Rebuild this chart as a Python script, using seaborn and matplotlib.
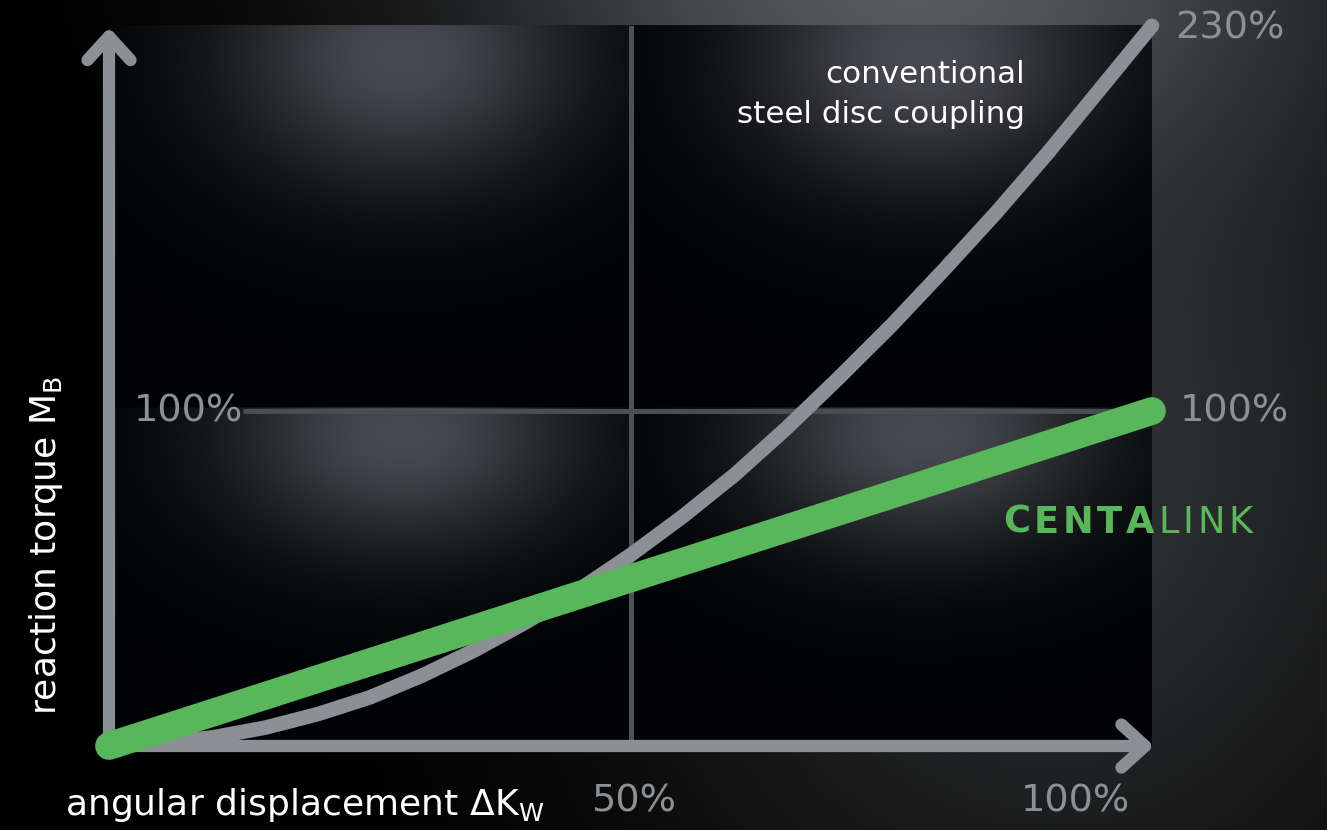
import matplotlib
matplotlib.use('Agg')
import matplotlib.pyplot as plt
import numpy as np
import seaborn as sns

# angular displacement in % of the rated value
disp = [0, 5, 10, 15, 20, 25, 30, 35, 40, 45, 50,
        55, 60, 65, 70, 75, 80, 85, 90, 95, 100]
# reaction torque in % -- conventional steel disc coupling
steel = [0, 0.8, 2.6, 5.5, 9.5, 14.5, 21, 28.5, 37, 46.5, 57,
         68.5, 81, 95, 110, 125.5, 142, 159, 177, 196, 215]
# reaction torque in % -- CENTALINK (straight line)
centa_x = [0, 50, 100]
centa = [0, 50, 100]

GRAY = '#8c8f93'
GREEN = '#58b75b'
LABEL = '#8d9094'

sns.set_theme(style='dark')
plt.rcParams['font.family'] = ['DejaVu Sans']

W, H = 1327, 830
fig = plt.figure(figsize=(W / 100, H / 100), dpi=100)

# background: outer glow + one soft spot light per quadrant
yy, xx = np.mgrid[0:H, 0:W].astype(float)
g1 = 0.19 * np.exp(-(((xx - 1050) / 430) ** 2 + ((yy - 450) / 520) ** 2))
g2 = 0.28 * np.exp(-(((xx - 870) / 450) ** 2 + ((yy + 30) / 200) ** 2))
v = g1 + g2
img = np.dstack([v * 0.97, v * 1.0, v * 1.03])

L, R, T, B, MX, MY = 109, 1152, 26, 746, 632, 408
for x0, x1 in ((L, MX), (MX, R)):
    for y0, y1 in ((T, MY), (MY, B)):
        w, h = x1 - x0, y1 - y0
        sub = (slice(y0, y1), slice(x0, x1))
        cx, cy = x0 + 0.56 * w, y0 + 0.08 * h
        q = 0.28 * np.exp(-(((xx[sub] - cx) / (0.34 * w)) ** 2 + ((yy[sub] - cy) / (0.34 * h)) ** 2))
        img[sub] = np.dstack([q * 1.0 + 0.004, q * 1.0 + 0.01, q * 1.03 + 0.022])

bg = fig.add_axes([0, 0, 1, 1], zorder=0)
bg.imshow(np.clip(img, 0, 1), aspect='auto', interpolation='bilinear')
bg.set_axis_off()

ax = fig.add_axes([L / W, (H - B) / H, (R - L) / W, (B - T) / H], zorder=1)
ax.set_facecolor('none')
ax.set_xlim(0, 100)
ax.set_ylim(0, (B - T) / 3.35)
ax.set_axis_off()

# grid lines at 50 % and 100 %
ax.axvline(50, color='#4f5255', lw=3.6, zorder=1)
ax.hlines(100, 12.8, 100, color='#4b4e51', lw=3.6, zorder=1)

# axis arrows
arrow = dict(arrowstyle='->,head_length=1.7,head_width=1.55', lw=8.8, color=GRAY,
             capstyle='round', joinstyle='round', shrinkA=0, shrinkB=0,
             mutation_scale=10)
ax.annotate('', xy=(0, 214.5), xytext=(0, 0), arrowprops=arrow,
            annotation_clip=False, zorder=2)
ax.annotate('', xy=(100.2, 0), xytext=(0, 0), arrowprops=arrow,
            annotation_clip=False, zorder=2)

sns.lineplot(x=disp, y=steel, ax=ax, color=GRAY, linewidth=10.5, estimator=None,
             sort=False, solid_capstyle='round', solid_joinstyle='round',
             clip_on=False, zorder=3)
sns.lineplot(x=centa_x, y=centa, ax=ax, color=GREEN, linewidth=20, estimator=None,
             sort=False, solid_capstyle='round', clip_on=False, zorder=4)
if ax.get_legend():
    ax.get_legend().remove()

# value labels
pct = dict(color=LABEL, fontsize=27.5, va='center', clip_on=False)
ax.text(102.2, 214.3, '230%', ha='left', **pct)
ax.text(102.7, 100, '100%', ha='left', **pct)
ax.text(2.4, 100, '100%', ha='left', **pct)
ax.text(50.3, -16.7, '50%', ha='center', **pct)
ax.text(92.7, -16.7, '100%', ha='center', **pct)

# curve names
ax.text(87.8, 197.9, 'conventional', color='white', fontsize=22.3, ha='right', va='baseline')
ax.text(87.8, 186.0, 'steel disc coupling', color='white', fontsize=22.3, ha='right', va='baseline')

fig.canvas.draw()
rend = fig.canvas.get_renderer()
off = 0
for ch, bold in [('C', 1), ('E', 1), ('N', 1), ('T', 1), ('A', 1),
                 ('L', 0), ('I', 0), ('N', 0), ('K', 0)]:
    t = ax.annotate(ch, xy=(85.7, 63.6), xytext=(off, 0), textcoords='offset points',
                    color=GREEN, fontsize=26.5, fontweight='bold' if bold else 'normal',
                    ha='left', va='baseline', annotation_clip=False)
    off += t.get_window_extent(rend).width * 72 / 100 + 2.7

# axis titles
fig.text(65 / W, (H - 815) / H, r'angular displacement ΔK$_\mathregular{W}$',
         color='white', fontsize=26, ha='left', va='baseline')
fig.text(46 / W, (H - 545) / H, r'reaction torque M$_\mathregular{B}$',
         color='white', fontsize=26, ha='center', va='center', rotation=90)

fig.savefig('out.png', dpi=100)
